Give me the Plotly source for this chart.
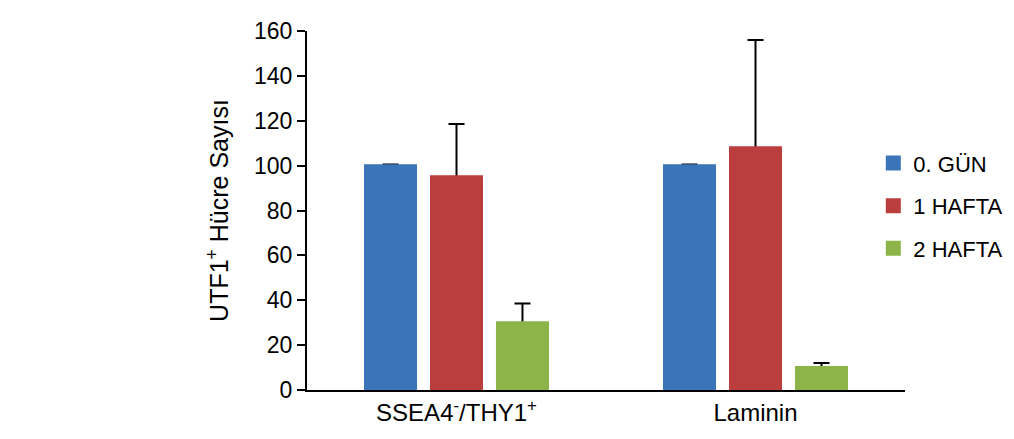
import plotly.graph_objects as go

categories = ["SSEA4<sup>-</sup>/THY1<sup>+</sup>", "Laminin"]
series_names = ["0. GÜN", "1 HAFTA", "2 HAFTA"]
values = {
    "0. GÜN": [100, 100],
    "1 HAFTA": [95, 108],
    "2 HAFTA": [30, 10],
}
errors = {
    "0. GÜN": [0.5, 0.5],
    "1 HAFTA": [23.5, 48],
    "2 HAFTA": [8.5, 2],
}
colors = {"0. GÜN": "#3C74B9", "1 HAFTA": "#BA3E3D", "2 HAFTA": "#8DB449"}
y_ticks = [0, 20, 40, 60, 80, 100, 120, 140, 160]

FONT = "Liberation Sans, Arial, sans-serif"

fig = go.Figure()
# error bars drawn on the lower subplot layer so the bars hide the lower part
for name in series_names:
    fig.add_trace(go.Bar(
        x=categories, y=values[name], name=name + " err",
        marker=dict(color="rgba(0,0,0,0)", line=dict(width=0)),
        showlegend=False, hoverinfo="skip",
        error_y=dict(type="data", symmetric=False, array=errors[name],
                     arrayminus=[2] * len(categories),
                     color="black", thickness=2, width=8),
        xaxis="x", yaxis="y",
    ))
for name in series_names:
    fig.add_trace(go.Bar(
        x=categories, y=values[name], name=name,
        marker=dict(color=colors[name], line=dict(width=3, color=colors[name])),
        legendgroup=name,
        xaxis="x2", yaxis="y2",
    ))

fig.update_layout(
    width=1006, height=431,
    margin=dict(l=299, r=109, t=23, b=49, autoexpand=False),
    paper_bgcolor="white", plot_bgcolor="white",
    font=dict(family=FONT, size=23, color="black"),
    barmode="group", bargap=0.338, bargroupgap=0.242,
    legend=dict(x=0.947, y=0.69, xanchor="left", yanchor="top",
                traceorder="grouped", tracegroupgap=11,
                font=dict(size=22), bgcolor="rgba(0,0,0,0)"),
    xaxis=dict(showline=True, linecolor="black", linewidth=2,
               ticks="", showgrid=False, range=[-0.5, 1.5],
               tickfont=dict(size=24)),
    yaxis=dict(range=[0, 160], tickvals=y_ticks, showline=True,
               linecolor="black", linewidth=2, ticks="outside",
               ticklen=8, tickwidth=2, tickcolor="black",
               showgrid=False, zeroline=False,
               title=dict(text="UTF1<sup>+</sup> Hücre Sayısı", standoff=18,
                          font=dict(size=25)),
               tickfont=dict(size=23)),
    xaxis2=dict(overlaying="x", range=[-0.5, 1.5], visible=False),
    yaxis2=dict(overlaying="y", range=[0, 160], visible=False),
)

fig.write_html("out.html")
